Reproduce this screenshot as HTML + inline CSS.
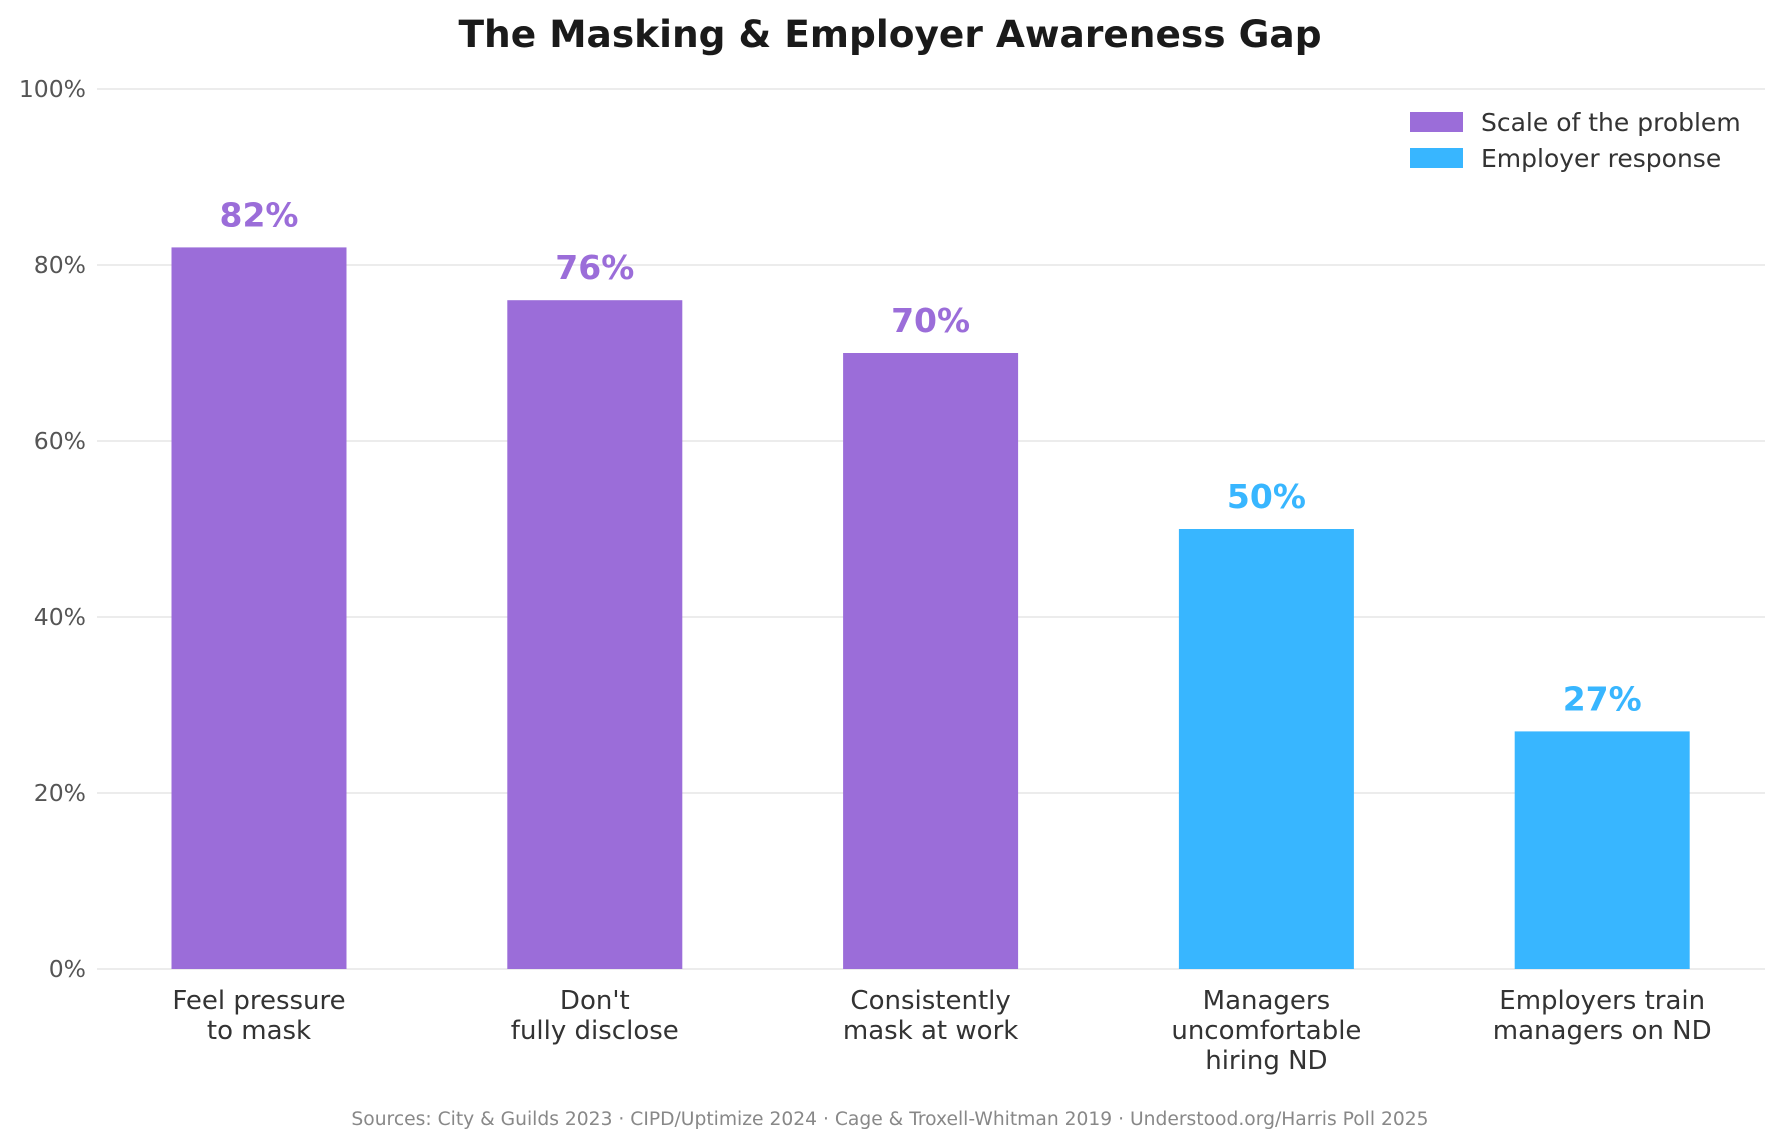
<!DOCTYPE html>
<html><head><meta charset="utf-8"><style>
html,body{margin:0;padding:0;background:#fff;}
svg{display:block;font-family:"DejaVu Sans","Liberation Sans",sans-serif;}
</style></head><body>
<svg id="chart" width="1781" height="1147" viewBox="0 0 1781 1147">
<text x="890" y="47" text-anchor="middle" font-size="37.5" font-weight="bold" fill="#1a1a1a">The Masking &amp; Employer Awareness Gap</text>
<g id="grid"></g><g id="bars"></g>
<g>
<rect x="1410" y="112" width="53" height="20" fill="#9b6dd9"/>
<text x="1481" y="131" font-size="25" fill="#333">Scale of the problem</text>
<rect x="1410" y="148" width="53" height="20" fill="#38b6ff"/>
<text x="1481" y="167" font-size="25" fill="#333">Employer response</text>
</g>
<text x="890" y="1125" text-anchor="middle" font-size="18.7" fill="#888">Sources: City &amp; Guilds 2023 · CIPD/Uptimize 2024 · Cage &amp; Troxell-Whitman 2019 · Understood.org/Harris Poll 2025</text>
</svg>
<script>
const categories=[["Feel pressure","to mask"],["Don't","fully disclose"],["Consistently","mask at work"],["Managers","uncomfortable","hiring ND"],["Employers train","managers on ND"]];
const values=[82,76,70,50,27];
const groups=["problem","problem","problem","employer","employer"];
const yTicks=[0,20,40,60,80,100];
const tickLabels=["0%","20%","40%","60%","80%","100%"];
const colors={problem:"#9b6dd9",employer:"#38b6ff"};
const NS="http://www.w3.org/2000/svg";
const x0=97,x1=1765,y0=969,y1=89,step=335.8,first=259,bw=175;
const y=v=>y0-(v/100)*(y0-y1);
const xc=i=>first+i*step;
function mk(t,a,p){const e=document.createElementNS(NS,t);for(const k in a)e.setAttribute(k,a[k]);p.appendChild(e);return e;}
const grid=document.getElementById('grid'),bars=document.getElementById('bars');
yTicks.forEach((t,i)=>{
 const l=mk('line',{x1:x0,x2:x1,y1:y(t),y2:y(t),stroke:'#e6e6e6','stroke-width':1.5},grid);
 
 
 const tx=mk('text',{x:86,y:y(t)+8,'text-anchor':'end','font-size':23.5,fill:'#555'},grid);
 tx.textContent=tickLabels[i];
 
 
});
values.forEach((v,i)=>{
 const c=colors[groups[i]];
 const r=mk('rect',{x:xc(i)-bw/2,y:y(v),width:bw,height:y0-y(v),fill:c},bars);
 
 
 const t=mk('text',{x:xc(i),y:y(v)-21,'text-anchor':'middle','font-size':33,'font-weight':'bold',fill:c},bars);
 t.textContent=v+'%';
 
 
 categories[i].forEach((ln,j)=>{
  const ct=mk('text',{x:xc(i),y:1009+j*30,'text-anchor':'middle','font-size':26,fill:'#333'},bars);
  ct.textContent=ln;
  
  
 });
});
</script>
</body></html>
